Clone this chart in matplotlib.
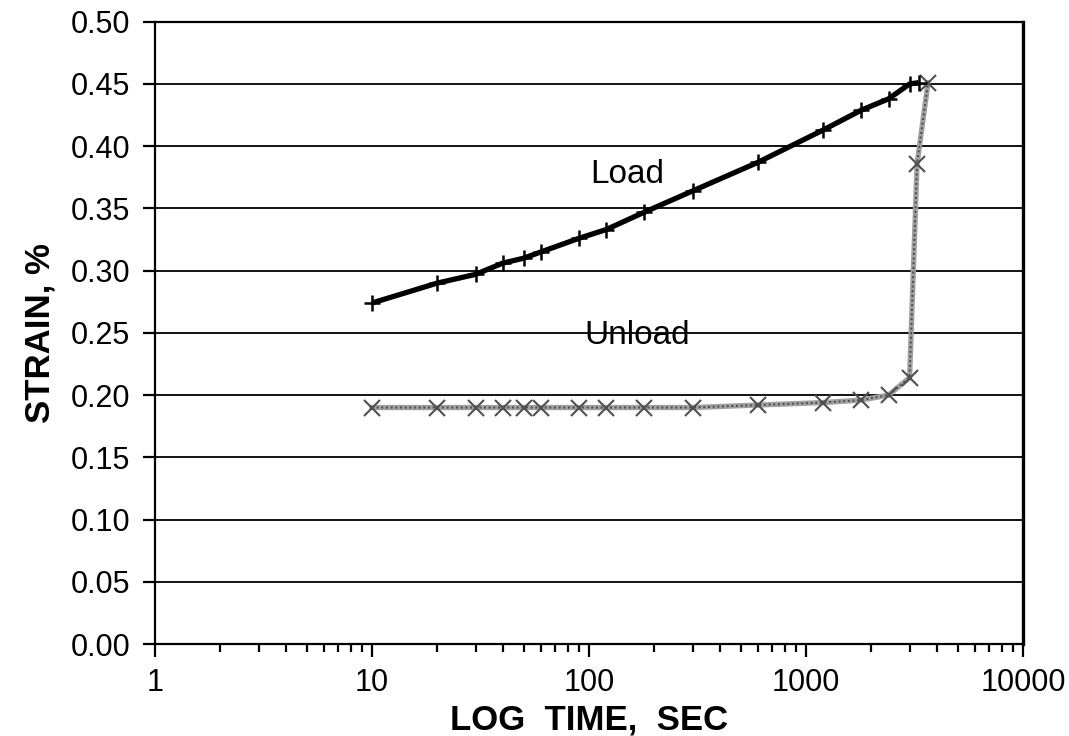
import matplotlib

matplotlib.use("Agg")
import matplotlib.pyplot as plt
import numpy as np
from matplotlib.ticker import FixedLocator, FuncFormatter, LogLocator, NullFormatter

plt.rcParams["font.family"] = ["Liberation Sans", "DejaVu Sans"]

# creep test: strain vs log time
load_t = [10, 20, 30, 40, 50, 60, 90, 120, 180, 300, 600, 1200, 1800, 2400, 3000, 3300]
load_strain = [0.274, 0.290, 0.297, 0.306, 0.310, 0.315, 0.326, 0.333, 0.347, 0.364,
               0.387, 0.413, 0.429, 0.438, 0.450, 0.451]

unload_t = [10, 20, 30, 40, 50, 60, 90, 120, 180, 300, 600, 1200, 1800, 2400, 3000, 3250, 3650]
unload_strain = [0.190, 0.190, 0.190, 0.190, 0.190, 0.190, 0.190, 0.190, 0.190, 0.190,
                 0.192, 0.194, 0.196, 0.200, 0.214, 0.386, 0.451]

y_ticks = [0.00, 0.05, 0.10, 0.15, 0.20, 0.25, 0.30, 0.35, 0.40, 0.45, 0.50]
x_ticks = [1, 10, 100, 1000, 10000]

fig = plt.figure(figsize=(10.69, 7.36), dpi=100)
ax = fig.add_axes([0.145, 0.125, 0.812, 0.8455])

ax.set_xscale("log")
ax.set_xlim(1, 10000)
ax.set_ylim(0, 0.5)

for y in y_ticks[1:-1]:
    ax.axhline(y, color="black", lw=1.3, zorder=1)

ax.plot(load_t, load_strain, color="black", lw=3.8, marker="+", ms=12, mew=1.8,
        zorder=3, solid_capstyle="butt")
# unload curve: grey halftone line with darker x markers
ax.plot(unload_t, unload_strain, color="#a0a0a0", lw=3.8, zorder=2)
ax.plot(unload_t, unload_strain, color="#4a4a4a", lw=1.4, ls=(0, (1, 1.4)), zorder=2)
ax.plot(unload_t, unload_strain, ls="none", marker="x", ms=11, mew=1.5,
        color="#505050", zorder=2)

ax.text(150, 0.377, "Load", fontsize=24, ha="center", va="center")
ax.text(166, 0.2476, "Unload", fontsize=24, ha="center", va="center")

ax.xaxis.set_major_locator(FixedLocator(x_ticks))
ax.xaxis.set_major_formatter(FuncFormatter(lambda v, p: f"{v:g}"))
ax.xaxis.set_minor_locator(LogLocator(base=10, subs=np.arange(2, 10)))
ax.xaxis.set_minor_formatter(NullFormatter())
ax.set_yticks(y_ticks)
ax.yaxis.set_major_formatter(FuncFormatter(lambda v, p: f"{v:.2f}"))

ax.tick_params(axis="x", which="major", direction="out", length=9, width=1.6,
               labelsize=22, pad=8)
ax.tick_params(axis="x", which="minor", direction="out", length=6, width=1.6)
ax.tick_params(axis="y", direction="out", length=9, width=1.6, labelsize=22, pad=9)

for side in ["left", "bottom", "top"]:
    ax.spines[side].set_linewidth(1.6)
ax.spines["right"].set_linewidth(2.4)

ax.set_xlabel("LOG  TIME,  SEC", fontsize=25, fontweight="bold", labelpad=4)
ax.set_ylabel("STRAIN, %", fontsize=25, fontweight="bold", labelpad=10)

fig.savefig("out.png", dpi=100)
